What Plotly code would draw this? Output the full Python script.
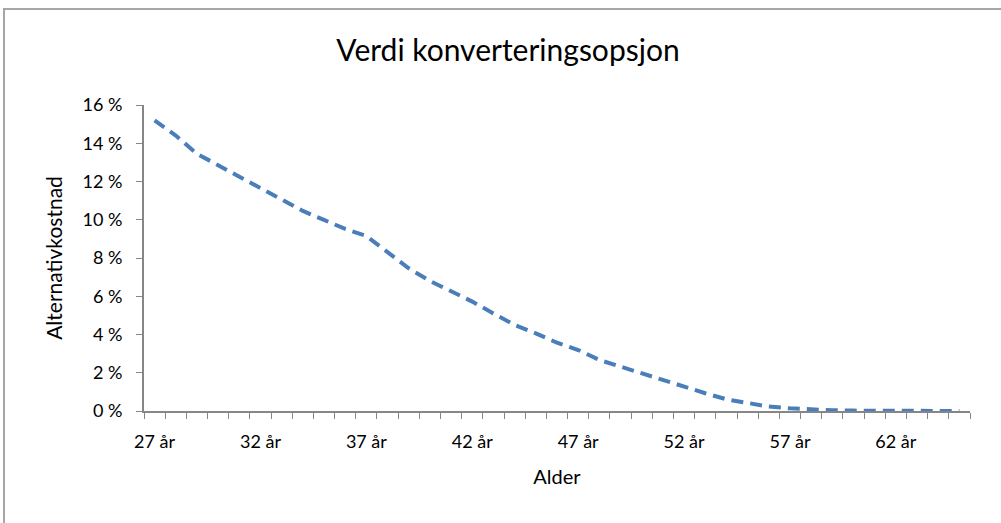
import plotly.graph_objects as go

# Data
ages = list(range(27, 66))
values = [15.2, 14.4, 13.45, 12.85, 12.25, 11.7, 11.07, 10.46, 9.99, 9.52,
          9.15, 8.33, 7.46, 6.8, 6.24, 5.72, 5.1, 4.5, 4.06, 3.57,
          3.19, 2.67, 2.32, 1.97, 1.62, 1.24, 0.93, 0.61, 0.40, 0.23,
          0.14, 0.08, 0.04, 0.02, 0.01, 0.0, 0.0, 0.0, 0.0]
label_ages = [27, 32, 37, 42, 47, 52, 57, 62]
label_text = [f"{a} år" for a in label_ages]
y_ticks = [0, 2, 4, 6, 8, 10, 12, 14, 16]

FONT = "Lato"
AXIS_COLOR = "#868686"

fig = go.Figure()
fig.add_trace(go.Scatter(
    x=ages, y=values, mode="lines",
    line=dict(color="#4a7ebb", width=4, dash="12px,7px"),
    showlegend=False, hoverinfo="skip",
))

L, R, T, B = 144, 31, 105, 112
W, H = 1001, 523
pw = W - L - R
ph = H - T - B

def px_to_paper_x(px):
    return (px - L) / pw

def px_to_paper_y(py):
    return (H - B - py) / ph

fig.update_layout(
    width=W, height=H,
    margin=dict(l=L, r=R, t=T, b=B, pad=0),
    paper_bgcolor="white", plot_bgcolor="white",
    font=dict(family=FONT, color="#000000", size=18),
    title=dict(text="Verdi konverteringsopsjon", x=508 / W, xref="container",
               xanchor="center", y=1 - 50 / H, yref="container", yanchor="middle",
               font=dict(family=FONT, size=30, color="#000000")),
    xaxis=dict(
        range=[26.5, 65.5], showgrid=False, zeroline=False,
        showline=True, linecolor=AXIS_COLOR, linewidth=2,
        tickmode="array", tickvals=label_ages, ticktext=label_text,
        ticks="", ticklabelstandoff=13,
        minor=dict(ticks="outside", tick0=26.5, dtick=1, ticklen=6,
                   tickcolor=AXIS_COLOR, tickwidth=1, showgrid=False),
        tickfont=dict(size=18, family=FONT),
        title=dict(text="Alder", standoff=19, font=dict(size=20, family=FONT)),
        fixedrange=True,
    ),
    yaxis=dict(
        range=[0, 16], showgrid=False, zeroline=False,
        showline=True, linecolor=AXIS_COLOR, linewidth=2,
        tickmode="array", tickvals=y_ticks, ticktext=[f"{v} %" for v in y_ticks],
        ticks="outside", ticklen=6, tickcolor=AXIS_COLOR, tickwidth=1,
        ticklabelstandoff=10,
        tickfont=dict(size=18, family=FONT),
        title=dict(text="Alternativkostnad", standoff=14, font=dict(size=21, family=FONT)),
        fixedrange=True,
    ),
    shapes=[dict(
        type="rect", xref="paper", yref="paper",
        x0=px_to_paper_x(4), x1=px_to_paper_x(1015),
        y0=px_to_paper_y(535), y1=px_to_paper_y(9),
        line=dict(color="#a6a6a6", width=2), fillcolor="rgba(0,0,0,0)", layer="below",
    )],
)

fig.write_html("out.html")
